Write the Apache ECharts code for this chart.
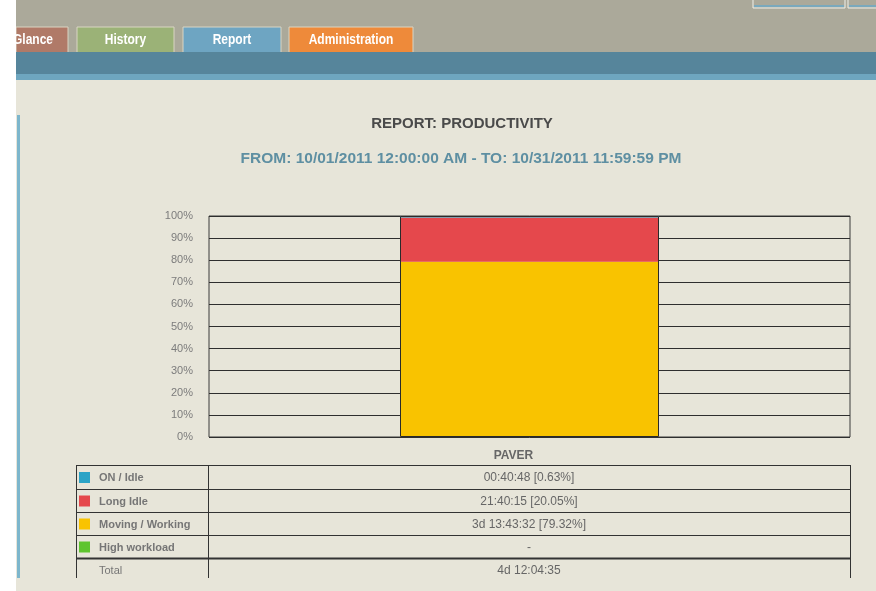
<!DOCTYPE html>
<html lang="en">
<head>
    <meta charset="UTF-8">
    <title>Report: Productivity</title>
    <script src="https://cdn.jsdelivr.net/npm/echarts@6/dist/echarts.min.js"></script>
    <style>
        body { margin: 0; background: #fff; }
    </style>
</head>
<body>
    <div id="main" style="width: 876px;height:591px;"></div>

    <script>
        // data
        const categories = ["PAVER"]
        const states = ["ON / Idle", "Long Idle", "Moving / Working", "High workload"]
        const shares = [0.63, 20.05, 79.32, 0]
        const durations = ["00:40:48 [0.63%]", "21:40:15 [20.05%]", "3d 13:43:32 [79.32%]", "-"]
        const totalLabel = "4d 12:04:35"
        const yTicks = [0, 10, 20, 30, 40, 50, 60, 70, 80, 90, 100]
        const tabs = ["Glance", "History", "Report", "Administration"]

        const stateColors = ["#2ba3c6", "#e5484c", "#f9c300", "#5ec42e"]
        // stacking order from the bottom of the bar
        const stackOrder = [2, 1, 0, 3]

        const font = "Liberation Sans, Arial, sans-serif"

        const mychart = echarts.init(document.getElementById("main"))

        // page chrome
        const graphic = []
        graphic.push({ type: "rect", shape: { x: 0, y: 0, width: 876, height: 591 }, style: { fill: "#e7e5d9" }, z: -10 })
        graphic.push({ type: "rect", shape: { x: 16, y: 0, width: 860, height: 52 }, style: { fill: "#aba99a" }, z: -9 })
        graphic.push({ type: "rect", shape: { x: 753, y: -2, width: 92, height: 10 }, style: { fill: "#aba99a", stroke: "#eef0ea", lineWidth: 1 }, z: -8 })
        graphic.push({ type: "rect", shape: { x: 848, y: -2, width: 30, height: 10 }, style: { fill: "#aba99a", stroke: "#eef0ea", lineWidth: 1 }, z: -8 })
        graphic.push({ type: "rect", shape: { x: 754, y: 5, width: 90, height: 2 }, style: { fill: "#7aa9bd" }, z: -7 })
        graphic.push({ type: "rect", shape: { x: 849, y: 5, width: 28, height: 2 }, style: { fill: "#7aa9bd" }, z: -7 })

        const tabBoxes = [[16, 52, "#b07a68"], [77, 97, "#9bb277"], [183, 98, "#6ea5c2"], [289, 124, "#ee8a3a"]]
        tabs.forEach((t, i) => {
            const [x, w, c] = tabBoxes[i]
            graphic.push({ type: "rect", shape: { x: x, y: 27, width: w, height: 26 }, style: { fill: c, stroke: "#d9d5c3", lineWidth: 1 }, z: -6 })
            graphic.push({
                type: "text", x: i === 0 ? x + 17 : x + w / 2, y: 40, z: -5, scaleX: 0.8,
                style: { text: t, fill: "#fff", font: "bold 15px " + font, align: "center", verticalAlign: "middle" }
            })
        })
        graphic.push({ type: "rect", shape: { x: 16, y: 52, width: 860, height: 22 }, style: { fill: "#56859b" }, z: -4 })
        graphic.push({ type: "rect", shape: { x: 16, y: 74, width: 860, height: 6 }, style: { fill: "#6ea6bf" }, z: -4 })
        graphic.push({ type: "rect", shape: { x: 0, y: 0, width: 16, height: 591 }, style: { fill: "#ffffff" }, z: -3 })
        graphic.push({ type: "rect", shape: { x: 17, y: 115, width: 3, height: 463 }, style: { fill: "#7db6cc" }, z: -3 })

        // titles
        graphic.push({ type: "text", x: 462, y: 124, style: { text: "REPORT: PRODUCTIVITY", fill: "#4a4a4a", font: "bold 15px " + font, align: "center", verticalAlign: "middle" } })
        graphic.push({ type: "text", x: 461, y: 159, style: { text: "FROM: 10/01/2011 12:00:00 AM - TO: 10/31/2011 11:59:59 PM", fill: "#5e8fa2", font: "bold 15.5px " + font, align: "center", verticalAlign: "middle" } })

        // table under the chart
        const rowLines = [465, 489, 512, 535, 558]
        const line = (x1, y1, x2, y2, w) => ({ type: "line", shape: { x1: x1, y1: y1, x2: x2, y2: y2 }, style: { stroke: "#333", lineWidth: w || 1 } })
        rowLines.forEach((y, i) => graphic.push(line(76, y + 0.5, 850, y + 0.5, i === 4 ? 2 : 1)))
        graphic.push(line(76.5, 465, 76.5, 578))
        graphic.push(line(208.5, 465, 208.5, 578))
        graphic.push(line(850.5, 465, 850.5, 578))
        states.forEach((s, i) => {
            const cy = (rowLines[i] + rowLines[i + 1]) / 2 + 1
            graphic.push({ type: "rect", shape: { x: 79, y: cy - 6, width: 11, height: 11 }, style: { fill: stateColors[i] } })
            graphic.push({ type: "text", x: 99, y: cy, style: { text: s, fill: "#767676", font: "bold 11px " + font, verticalAlign: "middle" } })
            graphic.push({ type: "text", x: 529, y: cy, style: { text: durations[i], fill: "#666", font: "12px " + font, align: "center", verticalAlign: "middle" } })
        })
        graphic.push({ type: "text", x: 99, y: 571, style: { text: "Total", fill: "#767676", font: "11px " + font, verticalAlign: "middle" } })
        graphic.push({ type: "text", x: 529, y: 571, style: { text: totalLabel, fill: "#666", font: "12px " + font, align: "center", verticalAlign: "middle" } })

        const series = stackOrder.map(i => ({
            name: states[i],
            type: "bar",
            stack: "total",
            barWidth: 259,
            data: [shares[i]],
            itemStyle: { color: stateColors[i] },
            silent: true
        }))
        // outline around the whole bar
        series.push({
            type: "bar",
            barWidth: 259,
            barGap: "-100%",
            data: [shares.reduce((a, b) => a + b, 0)],
            itemStyle: { color: "transparent", borderColor: "#2a2a2a", borderWidth: 1 },
            z: 5,
            silent: true
        })

        const option = {
            animation: false,
            graphic: graphic,
            grid: {
                left: 209, right: 26, top: 216, bottom: 154,
                show: true, borderColor: "#3a3a3a", borderWidth: 1, backgroundColor: "transparent"
            },
            xAxis: {
                type: "category",
                data: categories,
                axisLine: { show: false },
                axisTick: { show: false },
                axisLabel: { color: "#666", fontSize: 12, fontWeight: "bold", fontFamily: font, margin: 13, padding: [0, 32, 0, 0] }
            },
            yAxis: {
                type: "value",
                min: yTicks[0],
                max: yTicks[yTicks.length - 1],
                interval: yTicks[1] - yTicks[0],
                axisLine: { show: false },
                axisTick: { show: false },
                splitLine: { lineStyle: { color: "#2e2e2e", width: 1 } },
                axisLabel: { formatter: "{value}%", color: "#7c7c7c", fontSize: 11, fontFamily: font, margin: 16, padding: [2, 0, 0, 0] }
            },
            series: series
        }
        mychart.setOption(option)
    </script>
</body>
</html>
